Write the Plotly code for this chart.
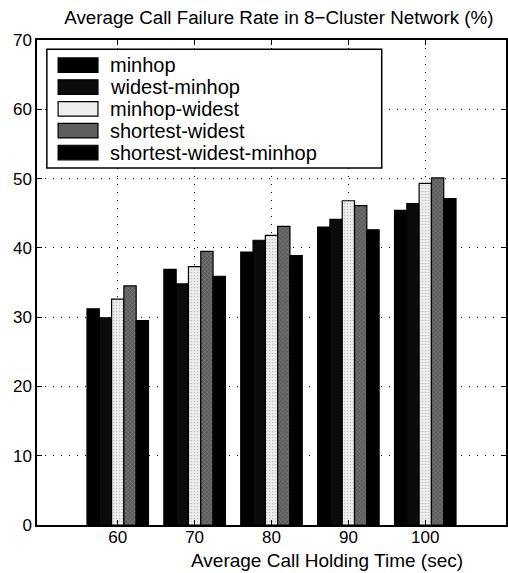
import plotly.graph_objects as go

holding_time = [60, 70, 80, 90, 100]
series_names = ["minhop", "widest-minhop", "minhop-widest", "shortest-widest", "shortest-widest-minhop"]
minhop = [31.2, 36.9, 39.4, 43.0, 45.4]
widest_minhop = [29.9, 34.8, 41.1, 44.1, 46.4]
minhop_widest = [32.6, 37.3, 41.8, 46.8, 49.3]
shortest_widest = [34.5, 39.5, 43.1, 46.1, 50.1]
shortest_widest_minhop = [29.5, 35.9, 38.9, 42.6, 47.1]
y_ticks = [0, 10, 20, 30, 40, 50, 60, 70]

series_values = [minhop, widest_minhop, minhop_widest, shortest_widest, shortest_widest_minhop]
fills = ["#000000", "#0b0b0b", "#eeeeee", "#5e5e5e", "#000000"]
patterns = ["", "", ".", "x", ""]
pattern_fg = ["#000", "#000", "#999999", "#aaaaaa", "#000"]

FONT = "Liberation Sans, Arial, Helvetica, sans-serif"
GRID_DASH = "1px,7px"

fig = go.Figure()
for name, vals, fc, pat, pfg in zip(series_names, series_values, fills, patterns, pattern_fg):
    fig.add_trace(go.Bar(
        x=holding_time, y=vals, name=name,
        marker=dict(color=fc, line=dict(color="black", width=1.2),
                    pattern=dict(shape=pat, fgcolor=pfg, size=3, solidity=0.25)),
        showlegend=False,
    ))

# legend box drawn in the upper left of the axes
lx0, lx1 = 0.021, 0.735
ly1, ly0 = 0.981, 0.736
fig.add_shape(type="rect", xref="paper", yref="paper", x0=lx0, x1=lx1, y0=ly0, y1=ly1,
              line=dict(color="black", width=1.5), fillcolor="white", layer="above")
row_top, row_step = 0.948, 0.045
for i, (name, fc) in enumerate(zip(series_names, fills)):
    yc = row_top - row_step * i
    fig.add_shape(type="rect", xref="paper", yref="paper",
                  x0=0.045, x1=0.130, y0=yc - 0.015, y1=yc + 0.015,
                  line=dict(color="black", width=1.2), fillcolor=fc, layer="above")
    fig.add_annotation(xref="paper", yref="paper", x=0.152, y=yc, text=name,
                       showarrow=False, xanchor="left", yanchor="middle",
                       font=dict(family=FONT, size=20, color="black"))

fig.add_annotation(xref="paper", yref="paper", x=0.618, y=-0.0985,
                   text="Average Call Holding Time (sec)", showarrow=False,
                   xanchor="center", yanchor="bottom",
                   font=dict(family=FONT, size=19, color="black"))

fig.update_layout(
    width=508, height=573,
    margin=dict(l=37, r=0, t=40, b=48),
    paper_bgcolor="white", plot_bgcolor="white",
    barmode="group", bargap=0.2, bargroupgap=0.0,
    font=dict(family=FONT, size=17, color="black"),
    title=dict(text="Average Call Failure Rate in 8\u2212Cluster Network (%)",
               x=0.549, xanchor="center", y=0.970, yanchor="middle",
               font=dict(family=FONT, size=18.8, color="black")),
    xaxis=dict(range=[49.5, 110.5], tickmode="array", tickvals=holding_time,
               ticktext=[str(v) for v in holding_time],
               tickfont=dict(size=17), ticklabelstandoff=-4,
               showgrid=True, gridcolor="black", griddash=GRID_DASH, gridwidth=1,
               showline=True, linecolor="black", linewidth=1.5, mirror="ticks",
               ticks="inside", ticklen=5, tickcolor="black", zeroline=False),
    yaxis=dict(range=[0, 70], tickmode="array", tickvals=y_ticks,
               tickfont=dict(size=17),
               showgrid=True, gridcolor="black", griddash=GRID_DASH, gridwidth=1,
               showline=True, linecolor="black", linewidth=1.5, mirror="ticks",
               ticks="inside", ticklen=5, tickcolor="black", zeroline=False),
)

fig.write_html("out.html")
